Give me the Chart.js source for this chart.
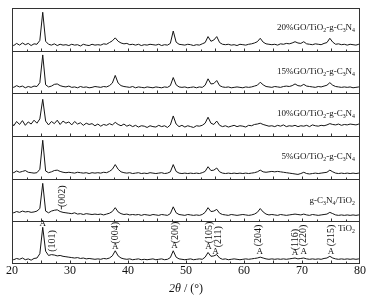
<!DOCTYPE html>
<html>
<head>
<meta charset="utf-8">
<script src="https://cdn.jsdelivr.net/npm/chart.js@4.4.0/dist/chart.umd.min.js"></script>
<style>
  html, body { margin: 0; padding: 0; background: #fff; }
  #wrap { width: 373px; height: 297px; }
</style>
</head>
<body>
<div id="wrap"><canvas id="xrdChart"></canvas></div>
<script>
// 2theta sampling positions (deg)
const twoTheta = [
  20.0, 20.3, 20.8, 21.3, 21.8, 22.3, 22.8, 23.3, 23.8, 24.3,
  24.8, 25.3, 25.8, 26.3, 26.8, 27.3, 27.8, 28.3, 28.8, 29.3,
  29.8, 30.3, 30.8, 31.3, 31.8, 32.3, 32.8, 33.3, 33.8, 34.3,
  34.8, 35.3, 35.8, 36.3, 36.8, 37.3, 37.8, 38.3, 38.8, 39.3,
  39.8, 40.3, 40.8, 41.3, 41.8, 42.3, 42.8, 43.3, 43.8, 44.3,
  44.8, 45.3, 45.8, 46.3, 46.8, 47.3, 47.8, 48.3, 48.8, 49.3,
  49.8, 50.3, 50.8, 51.3, 51.8, 52.3, 52.8, 53.3, 53.8, 54.3,
  54.8, 55.3, 55.8, 56.3, 56.8, 57.3, 57.8, 58.3, 58.8, 59.3,
  59.8, 60.3, 60.8, 61.3, 61.8, 62.3, 62.8, 63.3, 63.8, 64.3,
  64.8, 65.3, 65.8, 66.3, 66.8, 67.3, 67.8, 68.3, 68.8, 69.3,
  69.8, 70.3, 70.8, 71.3, 71.8, 72.3, 72.8, 73.3, 73.8, 74.3,
  74.8, 75.3, 75.8, 76.3, 76.8, 77.3, 77.8, 78.3, 78.8, 79.3,
  79.8, 80.0
];

// relative intensity (a.u., 0-100 within each panel)
const go20 = [
  15, 12, 17, 13, 18, 14, 17, 12, 16, 15,
  24, 90, 22, 15, 13, 16, 12, 15, 13, 14,
  12, 15, 13, 14, 11, 15, 13, 12, 15, 13,
  14, 13, 16, 15, 19, 23, 30, 22, 18, 16,
  17, 14, 15, 13, 15, 12, 14, 13, 15, 14,
  13, 15, 12, 14, 13, 17, 46, 20, 15, 14,
  13, 15, 14, 12, 14, 13, 16, 19, 33, 22,
  25, 33, 19, 15, 14, 15, 13, 14, 12, 15,
  14, 13, 15, 16, 18, 21, 29, 20, 16, 15,
  14, 15, 13, 16, 15, 17, 16, 18, 21, 18,
  17, 21, 16, 15, 14, 16, 15, 14, 17, 19,
  29, 20, 15, 16, 14, 15, 13, 15, 14, 13,
  15, 14
];
const go15 = [
  16, 14, 18, 15, 17, 13, 16, 14, 17, 16,
  25, 90, 20, 15, 17, 21, 22, 18, 16, 15,
  17, 14, 15, 13, 16, 14, 15, 13, 14, 16,
  15, 14, 16, 15, 18, 24, 42, 24, 18, 16,
  15, 14, 16, 13, 15, 14, 13, 15, 14, 13,
  15, 14, 13, 15, 14, 18, 37, 20, 15, 14,
  15, 13, 14, 15, 13, 15, 14, 19, 34, 22,
  23, 30, 18, 15, 14, 15, 13, 14, 15, 14,
  13, 15, 14, 15, 17, 19, 26, 20, 16, 15,
  14, 16, 15, 14, 16, 17, 16, 18, 22, 18,
  17, 21, 17, 16, 15, 14, 16, 15, 17, 19,
  25, 19, 16, 15, 14, 15, 14, 15, 13, 14,
  15, 14
];
const go10 = [
  30, 24, 34, 27, 36, 25, 33, 28, 37, 30,
  40, 86, 35, 26, 34, 29, 37, 27, 35, 30,
  33, 26, 34, 28, 31, 25, 30, 27, 29, 24,
  28, 23, 27, 25, 29, 26, 32, 27, 24, 28,
  23, 26, 22, 25, 21, 24, 23, 20, 24, 22,
  21, 25, 22, 24, 20, 26, 47, 28, 22, 25,
  21, 24, 22, 20, 24, 23, 25, 30, 44, 30,
  27, 35, 25, 22, 24, 21, 23, 25, 22, 24,
  23, 21, 25, 24, 27, 28, 30, 27, 25, 23,
  24, 22, 25, 23, 26, 22, 24, 23, 25, 22,
  24, 23, 25, 22, 26, 24, 23, 25, 24, 26,
  29, 27, 26, 28, 25, 27, 26, 28, 27, 26,
  28, 27
];
const go5 = [
  16, 14, 18, 15, 17, 19, 15, 14, 13, 14,
  22, 90, 18, 14, 16, 19, 20, 17, 15, 14,
  15, 14, 13, 15, 14, 13, 14, 12, 14, 13,
  14, 13, 15, 14, 17, 22, 33, 22, 16, 14,
  13, 14, 12, 13, 14, 12, 13, 12, 14, 13,
  12, 13, 14, 12, 13, 16, 33, 17, 13, 12,
  13, 12, 13, 12, 13, 12, 14, 17, 28, 19,
  20, 25, 16, 13, 12, 13, 12, 13, 12, 13,
  12, 13, 12, 13, 14, 16, 20, 16, 15, 16,
  17, 16, 17, 16, 15, 14, 13, 12, 11, 10,
  12, 15, 12, 11, 12, 13, 12, 13, 14, 15,
  20, 16, 13, 12, 13, 12, 13, 12, 13, 12,
  13, 12
];
const cnTiO2 = [
  22, 20, 23, 21, 24, 22, 23, 21, 22, 24,
  30, 89, 24, 20, 24, 26, 27, 23, 21, 20,
  19, 18, 20, 17, 18, 16, 18, 17, 16, 17,
  16, 17, 15, 17, 19, 23, 32, 22, 18, 16,
  17, 15, 16, 15, 16, 14, 16, 15, 14, 16,
  15, 14, 16, 15, 14, 18, 34, 20, 16, 15,
  14, 16, 15, 14, 15, 14, 16, 21, 32, 23,
  24, 28, 19, 16, 15, 14, 16, 15, 14, 15,
  16, 15, 14, 15, 17, 21, 30, 22, 17, 15,
  16, 15, 14, 16, 15, 14, 15, 16, 17, 16,
  15, 17, 15, 14, 16, 15, 14, 15, 16, 17,
  21, 18, 15, 14, 15, 14, 15, 14, 15, 14,
  15, 14
];
const tio2 = [
  12, 10, 13, 11, 14, 10, 12, 9, 13, 14,
  24, 86, 30, 20, 22, 21, 19, 20, 18, 17,
  16, 15, 14, 15, 13, 14, 12, 13, 12, 11,
  12, 11, 13, 12, 14, 19, 31, 19, 14, 12,
  11, 12, 10, 11, 12, 10, 11, 10, 11, 12,
  10, 11, 12, 10, 11, 15, 31, 16, 12, 11,
  10, 11, 12, 10, 11, 12, 11, 16, 27, 18,
  19, 22, 14, 11, 12, 10, 11, 12, 11, 10,
  11, 12, 11, 12, 13, 14, 16, 14, 12, 11,
  12, 11, 12, 11, 12, 11, 12, 13, 14, 12,
  13, 14, 12, 11, 12, 11, 12, 11, 13, 14,
  18, 14, 12, 11, 12, 11, 12, 11, 12, 11,
  12, 11
];

// panels from top to bottom; {n} = subscript
const sampleNames = [
  '20%GO/TiO{2}-g-C{3}N{4}',
  '15%GO/TiO{2}-g-C{3}N{4}',
  '10%GO/TiO{2}-g-C{3}N{4}',
  '5%GO/TiO{2}-g-C{3}N{4}',
  'g-C{3}N{4}/TiO{2}',
  'TiO{2}'
];
const sampleSeries = [go20, go15, go10, go5, cnTiO2, tio2];

// anatase reflections marked on the TiO2 pattern
const hklLabels = ['(101)', '(004)', '(200)', '(105)', '(211)', '(204)', '(116)', '(220)', '(215)'];
const hklAngles = [25.3, 37.8, 48.0, 53.9, 55.1, 62.7, 68.8, 70.3, 75.0];
const xTickLabels = [20, 30, 40, 50, 60, 70, 80];

const PANEL = 100;
const serif = "'Liberation Serif', 'Times New Roman', serif";
Chart.defaults.font.family = serif;
Chart.defaults.color = '#111';

const datasets = sampleSeries.map((vals, i) => {
  const offset = (sampleSeries.length - 1 - i) * PANEL;
  return {
    label: sampleNames[i],
    data: vals.map((v, k) => ({ x: twoTheta[k], y: v + offset })),
    borderColor: '#141414',
    borderWidth: 1,
    pointRadius: 0,
    tension: 0,
    fill: false
  };
});

// text with {n} subscripts
function richWidth(ctx, text, size) {
  let w = 0;
  text.split(/(\{[^}]*\})/).forEach(part => {
    if (!part) return;
    const sub = part[0] === '{';
    ctx.font = (sub ? size * 0.65 : size) + 'px ' + serif;
    w += ctx.measureText(sub ? part.slice(1, -1) : part).width;
  });
  return w;
}
function drawRich(ctx, text, xRight, yMid, size) {
  let x = xRight - richWidth(ctx, text, size);
  ctx.textAlign = 'left';
  ctx.textBaseline = 'middle';
  text.split(/(\{[^}]*\})/).forEach(part => {
    if (!part) return;
    const sub = part[0] === '{';
    const t = sub ? part.slice(1, -1) : part;
    ctx.font = (sub ? size * 0.65 : size) + 'px ' + serif;
    ctx.fillText(t, x, sub ? yMid + size * 0.3 : yMid);
    x += ctx.measureText(t).width;
  });
}

const framePlugin = {
  id: 'xrdFrame',
  afterDatasetsDraw(chart) {
    const { ctx, chartArea: a, scales: { x, y } } = chart;
    const n = sampleSeries.length;
    ctx.save();
    ctx.strokeStyle = '#333';
    ctx.lineWidth = 1;
    ctx.beginPath();
    ctx.moveTo(Math.round(a.left) + 0.5, a.top);
    ctx.lineTo(Math.round(a.left) + 0.5, a.bottom);
    ctx.moveTo(Math.round(a.right) - 0.5, a.top);
    ctx.lineTo(Math.round(a.right) - 0.5, a.bottom);
    ctx.stroke();

    // panel borders with inward ticks
    for (let p = 0; p <= n; p++) {
      const yb = Math.round(y.getPixelForValue(p * PANEL)) + (p === 0 ? -0.5 : 0.5);
      ctx.beginPath();
      ctx.moveTo(a.left, yb);
      ctx.lineTo(a.right, yb);
      if (p < n) {
        for (let v = 22.5; v < 80; v += 2.5) {
          const xp = Math.round(x.getPixelForValue(v)) + 0.5;
          const len = v % 5 === 0 ? 3 : 2;
          ctx.moveTo(xp, yb);
          ctx.lineTo(xp, yb - len);
        }
      }
      ctx.stroke();
    }

    // sample names
    ctx.fillStyle = '#111';
    const nameY = [53, 50, 51.5, 51, 48, 82];
    sampleNames.forEach((name, i) => {
      const base = (n - 1 - i) * PANEL;
      drawRich(ctx, name, a.right - 5, y.getPixelForValue(base + nameY[i]), 9);
    });

    // anatase "A" marks and hkl labels
    const markY = [94, 40, 44, 40, 30, 30, 26, 28, 30];
    const hklX = [26.9, 37.8, 48.1, 54.0, 55.5, 62.4, 68.8, 70.2, 75.0];
    const hklY = [54, 73, 74, 74, 64, 67, 57, 67, 67];
    ctx.textAlign = 'center';
    ctx.textBaseline = 'middle';
    hklAngles.forEach((ang, i) => {
      ctx.font = '9px ' + serif;
      ctx.fillText('A', x.getPixelForValue(ang), y.getPixelForValue(markY[i]));
      ctx.save();
      ctx.translate(x.getPixelForValue(hklX[i]), y.getPixelForValue(hklY[i]));
      ctx.rotate(-Math.PI / 2);
      ctx.font = '10px ' + serif;
      ctx.fillText(hklLabels[i], 0, 0);
      ctx.restore();
    });

    // g-C3N4 (002) on the composite pattern
    const cnBase = PANEL;
    const px = x.getPixelForValue(28.6);
    ctx.save();
    ctx.translate(px, y.getPixelForValue(cnBase + 59));
    ctx.rotate(-Math.PI / 2);
    ctx.font = '10px ' + serif;
    ctx.fillText('(002)', 0, 0);
    ctx.restore();
    ctx.beginPath();
    ctx.moveTo(px - 0.5, y.getPixelForValue(cnBase + 36));
    ctx.lineTo(px - 0.5, y.getPixelForValue(cnBase + 28));
    ctx.stroke();

    // axis title
    const tx = (a.left + a.right) / 2;
    const ty = chart.height - 8;
    ctx.textBaseline = 'middle';
    const t1 = '2\u03b8';
    const t2 = ' / (\u00b0)';
    ctx.font = '12px ' + serif;
    const w2 = ctx.measureText(t2).width;
    ctx.font = 'italic 12px ' + serif;
    const w1 = ctx.measureText(t1).width;
    ctx.textAlign = 'left';
    ctx.fillText(t1, tx - (w1 + w2) / 2, ty);
    ctx.font = '12px ' + serif;
    ctx.fillText(t2, tx - (w1 + w2) / 2 + w1, ty);
    ctx.restore();
  }
};

new Chart(document.getElementById('xrdChart'), {
  type: 'line',
  data: { datasets },
  options: {
    responsive: true,
    maintainAspectRatio: false,
    animation: false,
    devicePixelRatio: 1,
    layout: { padding: { left: 12, right: 13, top: 8, bottom: 18.6 } },
    plugins: { legend: { display: false }, tooltip: { enabled: false } },
    scales: {
      x: {
        type: 'linear',
        min: 20,
        max: 80,
        grid: { display: false, drawTicks: false },
        border: { display: false },
        afterBuildTicks: scale => {
          scale.ticks = xTickLabels.map(v => ({ value: v }));
        },
        ticks: { padding: 0, font: { size: 12 }, color: '#111', maxRotation: 0 }
      },
      y: {
        display: false,
        min: 0,
        max: PANEL * sampleSeries.length
      }
    }
  },
  plugins: [framePlugin]
});
</script>
</body>
</html>
